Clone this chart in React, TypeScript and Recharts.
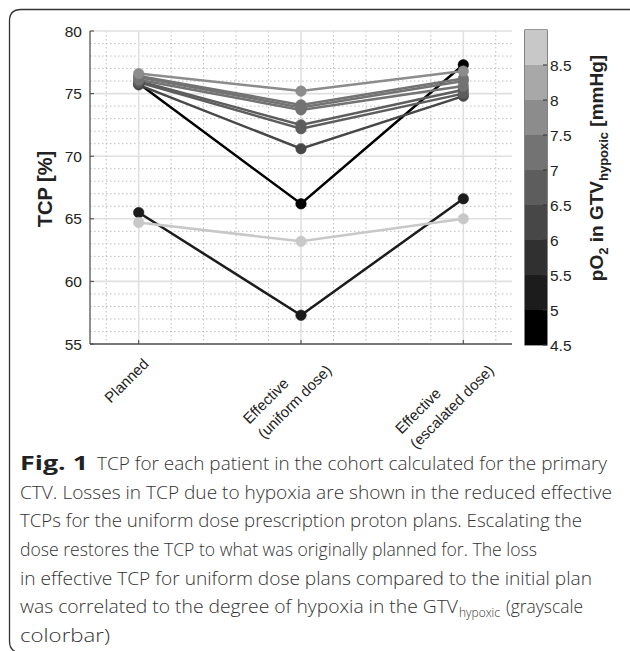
import React from "react";
import {
  LineChart,
  Line,
  XAxis,
  YAxis,
  CartesianGrid,
  BarChart,
  Bar,
  ReferenceArea,
} from "recharts";

// ---- data ----
const categories = ["Planned", "Effective\n(uniform dose)", "Effective\n(escalated dose)"];
const planned = [75.8, 65.5, 75.7, 75.9, 76.0, 76.1, 76.3, 76.4, 76.6, 64.7];
const uniformDose = [66.2, 57.3, 70.6, 72.2, 72.5, 73.7, 73.9, 74.1, 75.2, 63.2];
const escalatedDose = [77.3, 66.6, 74.8, 75.0, 75.3, 75.6, 76.0, 76.2, 76.8, 65.0];
const pO2 = [4.8, 5.3, 6.1, 6.6, 6.7, 7.1, 7.2, 7.3, 7.7, 8.7];

const yTicks = [55, 60, 65, 70, 75, 80];
const yMinor = [56, 57, 58, 59, 61, 62, 63, 64, 66, 67, 68, 69, 71, 72, 73, 74, 76, 77, 78, 79];
const xTicks = [1, 2, 3];
const xMinor = [0.8, 1.2, 1.4, 1.6, 1.8, 2.2, 2.4, 2.6, 2.8, 3.2];

const cbEdges = [4.5, 5, 5.5, 6, 6.5, 7, 7.5, 8, 8.5, 9];
const cbColors = ["#000000", "#1c1c1c", "#303030", "#474747", "#5d5d5d", "#737373", "#8c8c8c", "#a8a8a8", "#c8c8c8"];
const cbTicks = [4.5, 5, 5.5, 6, 6.5, 7, 7.5, 8, 8.5];

const captionFirst = "TCP for each patient in the cohort calculated for the primary";
const captionMiddle = [
  "CTV. Losses in TCP due to hypoxia are shown in the reduced effective",
  "TCPs for the uniform dose prescription proton plans. Escalating the",
  "dose restores the TCP to what was originally planned for. The loss",
  "in effective TCP for uniform dose plans compared to the initial plan",
];
const captionSixth = ["was correlated to the degree of hypoxia in the GTV", "hypoxic", "(grayscale"];
const captionLast = "colorbar)";

// ---- derived tables ----
const colorFor = (v: number) => {
  for (let i = 0; i < cbColors.length; i++) {
    if (v >= cbEdges[i] && v < cbEdges[i + 1]) return cbColors[i];
  }
  return cbColors[cbColors.length - 1];
};

const rows = categories.map((c, j) => {
  const r: any = { x: j + 1 };
  const src = [planned, uniformDose, escalatedDose][j];
  src.forEach((v, i) => (r["p" + i] = v));
  return r;
});

const cbRow: any = { name: "cb", base: cbEdges[0] };
cbColors.forEach((_, i) => (cbRow["b" + i] = cbEdges[i + 1] - cbEdges[i]));

const TICK_FONT = "'Liberation Sans', Arial, sans-serif";
const CAP_FONT = "'Open Sans', 'Noto Sans', sans-serif";
const TICK_SIZE = 15;

let measureCtx: CanvasRenderingContext2D | null = null;
const measure = (s: string, font: string) => {
  if (!measureCtx) {
    const c = document.createElement("canvas");
    measureCtx = c.getContext("2d");
  }
  if (!measureCtx) return s.length * 8;
  measureCtx.font = font;
  return measureCtx.measureText(s).width;
};

const YTick = (props: any) => {
  const { x, y, payload } = props;
  return (
    <g>
      <line x1={x} x2={x + 4} y1={y} y2={y} stroke="#444" strokeWidth={1} />
      <text x={x - 8} y={y} textAnchor="end" dominantBaseline="central" fontFamily={TICK_FONT} fontSize={TICK_SIZE + 0.5} fill="#222">
        {payload.value}
      </text>
    </g>
  );
};

const XTick = (props: any) => {
  const { x, y, payload } = props;
  const label = categories[Math.round(payload.value) - 1] || "";
  const lines = label.split("\n");
  const font = `${TICK_SIZE}px ${TICK_FONT}`;
  const widths = lines.map((l) => measure(l, font));
  const maxW = Math.max(...widths);
  const lh = 21;
  const single = lines.length === 1;
  const uEnd = single ? -7 : 3;
  const n0 = single ? 17 : 15;
  return (
    <g>
      <line x1={x} x2={x} y1={y} y2={y - 4} stroke="#444" strokeWidth={1} />
      <g transform={`translate(${x},${y}) rotate(-45)`}>
        {lines.map((l, i) => (
          <text
            key={i}
            x={uEnd - maxW}
            y={n0 + i * lh}
            textAnchor="start"
            dominantBaseline="central"
            fontFamily={TICK_FONT}
            fontSize={TICK_SIZE}
            fill="#222"
          >
            {l}
          </text>
        ))}
      </g>
    </g>
  );
};

const CbTick = (props: any) => {
  const { x, y, payload } = props;
  return (
    <g>
      <line x1={x - 4} x2={x} y1={y} y2={y} stroke="#333" strokeWidth={1} />
      <text x={x + 3} y={y} textAnchor="start" dominantBaseline="central" fontFamily={TICK_FONT} fontSize={TICK_SIZE + 0.5} fill="#222">
        {payload.value}
      </text>
    </g>
  );
};

const CAP_Y0 = 470;
const CAP_LH = 28.67;

export default function App() {
  return (
    <div style={{ position: "absolute", left: 0, top: 0, width: 630, height: 651, background: "#fff", overflow: "hidden" }}>
      <div style={{ position: "absolute", left: 0, top: 0 }}>
        <LineChart width={630} height={470} data={rows} margin={{ top: 31, right: 118, left: 40, bottom: 26 }}>
          <CartesianGrid
            stroke="#bdbdbd"
            strokeDasharray="1.5 2.5"
            horizontalValues={yMinor}
            verticalValues={xMinor}
          />
          <CartesianGrid stroke="#e0e0e0" strokeWidth={1.6} horizontalValues={yTicks} verticalValues={xTicks} />
          <XAxis
            type="number"
            dataKey="x"
            domain={[0.7, 3.3]}
            ticks={xTicks}
            height={100}
            tickSize={0}
            tickMargin={0}
            tickLine={false}
            axisLine={{ stroke: "#555", strokeWidth: 1.3 }}
            tick={<XTick />}
            interval={0}
          />
          <YAxis
            type="number"
            domain={[55, 80]}
            ticks={yTicks}
            width={50}
            tickSize={0}
            tickMargin={0}
            tickLine={false}
            axisLine={{ stroke: "#555", strokeWidth: 1.3 }}
            tick={<YTick />}
            interval={0}
          />
          {pO2.map((v, i) => (
            <Line
              key={i}
              dataKey={"p" + i}
              stroke={colorFor(v)}
              strokeWidth={2.5}
              dot={{ r: 5.3, fill: colorFor(v), stroke: colorFor(v), strokeWidth: 0.5 }}
              activeDot={false}
              isAnimationActive={false}
            />
          ))}
        </LineChart>
      </div>
      <div style={{ position: "absolute", left: 500, top: 0 }}>
        <BarChart
          width={110}
          height={470}
          data={[cbRow]}
          margin={{ top: 30, right: 3, left: 25, bottom: 125 }}
          barCategoryGap={0}
        >
          <XAxis dataKey="name" hide />
          <YAxis
            yAxisId="cb"
            orientation="right"
            type="number"
            domain={[4.5, 9]}
            allowDataOverflow
            ticks={cbTicks}
            width={60}
            tickSize={0}
            tickMargin={0}
            tickLine={false}
            axisLine={false}
            tick={<CbTick />}
            interval={0}
          />
          <Bar yAxisId="cb" dataKey="base" stackId="s" fill="none" isAnimationActive={false} />
          {cbColors.map((c, i) => (
            <Bar key={i} yAxisId="cb" dataKey={"b" + i} stackId="s" fill={c} isAnimationActive={false} />
          ))}
          <ReferenceArea yAxisId="cb" y1={4.5} y2={9} fill="none" stroke="#333" strokeWidth={1.2} />
        </BarChart>
      </div>
      <svg width={630} height={651} style={{ position: "absolute", left: 0, top: 0, pointerEvents: "none" }}>
        <path d="M 640 9.5 L 21 9.5 Q 9.5 9.5 9.5 21 L 9.5 641 Q 9.5 652.5 21 652.5 L 640 652.5" fill="none" stroke="#333" strokeWidth={1.3} />
        <text
          transform="translate(52,189) rotate(-90)"
          textAnchor="middle"
          fontFamily={TICK_FONT}
          fontWeight="bold"
          fontSize={20}
          fill="#222"
        >
          TCP [%]
        </text>
        <text
          transform="translate(603,168) rotate(-90)"
          textAnchor="middle"
          fontFamily={TICK_FONT}
          fontWeight="bold"
          fontSize={19}
          fill="#222"
        >
          pO
          <tspan fontSize={13} dy={5}>2</tspan>
          <tspan dy={-5}> in GTV</tspan>
          <tspan fontSize={13} dy={5}>hypoxic</tspan>
          <tspan dy={-5}> [mmHg]</tspan>
        </text>
        <g fontFamily={CAP_FONT} fontSize={19} fontWeight={300} fill="#333">
          <text x={20} y={CAP_Y0} fontWeight="bold" fill="#222" textLength={68} lengthAdjust="spacingAndGlyphs">
            Fig. 1
          </text>
          <text x={97} y={CAP_Y0} textLength={510} lengthAdjust="spacingAndGlyphs">
            {captionFirst}
          </text>
          {captionMiddle.map((l, i) => (
            <text
              key={i}
              x={20}
              y={CAP_Y0 + (i + 1) * CAP_LH}
              textLength={[592, 562, 517, 572][i]}
              lengthAdjust="spacingAndGlyphs"
            >
              {l}
            </text>
          ))}
          <text x={20} y={CAP_Y0 + 5 * CAP_LH} textLength={438} lengthAdjust="spacingAndGlyphs">
            {captionSixth[0]}
          </text>
          <text x={459} y={CAP_Y0 + 5 * CAP_LH + 4} fontSize={13} textLength={41} lengthAdjust="spacingAndGlyphs">
            {captionSixth[1]}
          </text>
          <text x={506} y={CAP_Y0 + 5 * CAP_LH} textLength={77} lengthAdjust="spacingAndGlyphs">
            {captionSixth[2]}
          </text>
          <text x={20} y={CAP_Y0 + 6 * CAP_LH} textLength={90} lengthAdjust="spacingAndGlyphs">
            {captionLast}
          </text>
        </g>
      </svg>
    </div>
  );
}
